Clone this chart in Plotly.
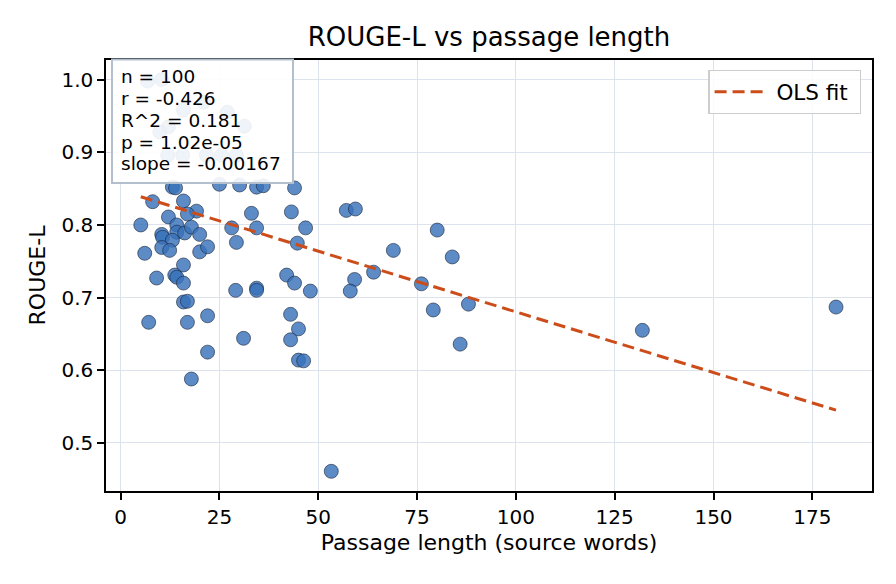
import plotly.graph_objects as go

# Passage length (source words) and ROUGE-L
passage_len = [
    6.8, 10.4, 15.9, 21.0, 27.0, 31.3, 12.1, 9.9, 11.9, 15.7, 21.7, 25.5, 29.3,
    13.1, 13.9, 25.0, 30.1, 34.4, 36.1, 44.0,
    8.1, 15.9, 12.1, 19.2, 16.9, 5.1, 14.2, 14.2, 10.4, 16.2, 17.9, 20.0, 10.6,
    13.1, 10.4, 12.4, 6.1, 20.0, 15.9, 9.1, 13.7, 14.2, 15.9, 15.9, 16.9,
    29.3, 22.0, 33.1, 34.4, 28.1, 43.2, 44.7, 29.1, 34.4, 34.4, 42.0, 44.0, 46.8, 48.0,
    7.1, 16.9, 22.0, 22.0, 17.9, 31.1, 43.0, 45.0, 43.0, 45.0, 46.3, 53.3,
    57.1, 59.4, 69.0, 80.1, 83.9, 59.2, 64.0, 58.1, 76.1, 88.0, 79.1, 85.9,
    132.0, 181.0,
]
rouge_l = [
    0.998, 1.000, 0.958, 0.969, 0.955, 0.936, 0.935, 0.928, 0.896, 0.896, 0.896, 0.896, 0.896,
    0.852, 0.851, 0.856, 0.855, 0.852, 0.854, 0.851,
    0.832, 0.833, 0.811, 0.819, 0.815, 0.800, 0.800, 0.790, 0.787, 0.789, 0.797, 0.787, 0.783,
    0.779, 0.769, 0.765, 0.761, 0.763, 0.745, 0.727, 0.731, 0.728, 0.720, 0.694, 0.695,
    0.776, 0.770, 0.816, 0.796, 0.796, 0.818, 0.775, 0.710, 0.713, 0.710, 0.731, 0.720, 0.796, 0.709,
    0.666, 0.666, 0.675, 0.625, 0.588, 0.644, 0.677, 0.657, 0.642, 0.614, 0.613, 0.461,
    0.820, 0.822, 0.765, 0.793, 0.756, 0.725, 0.735, 0.709, 0.719, 0.691, 0.683, 0.636,
    0.655, 0.687,
]

# OLS fit parameters (slope from the stats box, intercept)
ols_slope = -0.00167
ols_intercept = 0.8474

stats_lines = ["n = 100", "r = -0.426", "R^2 = 0.181", "p = 1.02e-05", "slope = -0.00167"]

x_ticks = [0, 25, 50, 75, 100, 125, 150, 175]
y_ticks = [0.5, 0.6, 0.7, 0.8, 0.9, 1.0]

FONT = "DejaVu Sans"

x_min, x_max = min(passage_len), max(passage_len)
fit_x = [x_min, x_max]
fit_y = [ols_intercept + ols_slope * v for v in fit_x]

fig = go.Figure()
fig.add_trace(go.Scatter(
    x=passage_len, y=rouge_l, mode="markers", showlegend=False,
    marker=dict(size=14, color="rgba(56,113,186,0.82)",
                line=dict(color="rgba(25,35,55,0.85)", width=0.7)),
))
fig.add_trace(go.Scatter(
    x=fit_x, y=fit_y, mode="lines", name="\u00a0OLS fit\u00a0",
    line=dict(color="#cc4c1a", width=3, dash="12px,6px"),
))

W, H = 896, 584
L, R, T, B = 106, 24, 60, 93
pw, ph = W - L - R, H - T - B

def px_x(p):
    return (p - L) / pw

def px_y(p):
    return (H - B - p) / ph

# stats box
fig.add_shape(type="rect", xref="paper", yref="paper", layer="above",
              x0=px_x(112), x1=px_x(293), y0=px_y(183), y1=px_y(59.5),
              fillcolor="rgba(255,255,255,0.9)",
              line=dict(color="#b4bfcd", width=2))
for i, t in enumerate(stats_lines):
    fig.add_annotation(xref="paper", yref="paper", x=px_x(119), y=px_y(77 + i * 21.7),
                       text=t, showarrow=False, xanchor="left", yanchor="middle",
                       font=dict(family=FONT, size=18.5, color="black"))

axis_common = dict(showline=True, linecolor="black", linewidth=1.5, mirror=True,
                   ticks="outside", ticklen=7, tickwidth=1.5, tickcolor="black",
                   showgrid=True, gridcolor="#dde3ec", gridwidth=1.3, zeroline=False,
                   tickfont=dict(family=FONT, size=20, color="black"))

fig.update_xaxes(range=[-3.7, 190.1], tickvals=x_ticks,
                 title=dict(text="Passage length (source words)", standoff=7,
                            font=dict(family=FONT, size=22, color="black")),
                 **axis_common)
fig.update_yaxes(range=[0.4339, 1.027], tickvals=y_ticks, tickformat=".1f",
                 title=dict(text="ROUGE-L", standoff=10,
                            font=dict(family=FONT, size=22, color="black")),
                 **axis_common)

fig.update_layout(
    width=W, height=H, margin=dict(l=L, r=R, t=T, b=B),
    paper_bgcolor="white", plot_bgcolor="white",
    title=dict(text="ROUGE-L vs passage length", x=0.5, xref="paper",
               y=1 - 37 / H, yanchor="middle",
               font=dict(family=FONT, size=26, color="black")),
    legend=dict(x=0.986, y=0.977, xanchor="right", yanchor="top",
                bgcolor="rgba(255,255,255,0.85)", bordercolor="#cccccc", borderwidth=1.3,
                itemwidth=50,
                font=dict(family=FONT, size=21.5, color="black")),
    font=dict(family=FONT),
)

fig.write_html("out.html")
